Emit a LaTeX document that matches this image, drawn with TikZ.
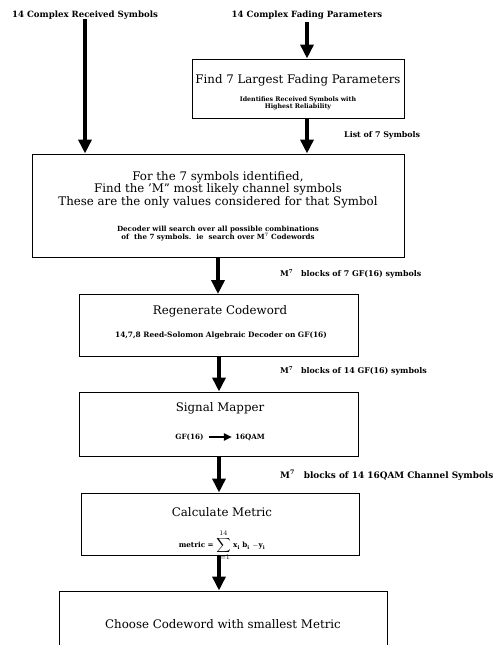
\documentclass[tikz,border=0pt]{standalone}
\usepackage{fontspec}
\setmainfont{DejaVu Serif}
\usetikzlibrary{arrows.meta}
\tikzset{
  box/.style n args={2}{draw, line width=1pt, inner sep=0pt, minimum width=#1, minimum height=#2},
  bigarrow/.style={line width=4.2pt, -{Triangle[length=14pt,width=13pt]}},
  smallarrow/.style={line width=2.2pt, -{Triangle[length=8pt,width=7pt]}},
  title/.style={inner sep=0pt, font=\fontsize{11.8}{12.6}\selectfont},
  sub/.style={inner sep=0pt, align=center, font=\fontsize{6.3}{6.7}\selectfont\bfseries},
  lbl/.style={inner sep=0pt, font=\fontsize{7.9}{9}\selectfont\bfseries},
  toplbl/.style={inner sep=0pt, font=\fontsize{8.6}{10}\selectfont\bfseries},
}
\begin{document}
\begin{tikzpicture}[x=1pt,y=-1pt]
\useasboundingbox (0,0) rectangle (499,645);
\clip (0,0) rectangle (499,645);
\fill[white] (0,0) rectangle (499,645);

% top labels
\node[toplbl] (recv) at (85,15) {14 Complex Received Symbols};
\node[toplbl] (fad) at (307,15) {14 Complex Fading Parameters};

% boxes
\node[box={212pt}{59pt}] (find) at (298,88.5) {};
\node[box={372pt}{103pt}] (big) at (218,205.5) {};
\node[box={279pt}{62pt}] (regen) at (219,325.5) {};
\node[box={279pt}{64pt}] (mapper) at (219,424) {};
\node[box={278pt}{62pt}] (metric) at (220,524) {};
\node[box={328pt}{120pt}] (choose) at (223,651) {};

% find box texts
\node[title] (findt) at (298,80) {Find 7 Largest Fading Parameters};
\node[sub] (finds) at (298,103) {Identifies Received Symbols with\\Highest Reliability};

% big box texts
\node[title, align=center] (bigt) at (218,189.5)
  {For the 7 symbols identified,\\Find the {'}M{''} most likely channel symbols\\These are the only values considered for that Symbol};
\node[sub, font=\fontsize{7.1}{7.4}\selectfont\bfseries] (bigs) at (218,233.5) {Decoder will search over all possible combinations\\of\ \ the 7 symbols.\ \ ie\ \ search over M$^{7}$ Codewords};

% regen
\node[title] (regent) at (220,311) {Regenerate Codeword};
\node[sub, font=\fontsize{7.4}{8}\selectfont\bfseries] (regens) at (221,336) {14,7,8 Reed-Solomon Algebraic Decoder on GF(16)};

% mapper
\node[title] (mappert) at (220,408) {Signal Mapper};
\node[sub, font=\fontsize{7.2}{8}\selectfont\bfseries] (gf) at (189.5,437) {GF(16)};
\node[sub, font=\fontsize{7.2}{8}\selectfont\bfseries] (qam) at (250,437) {16QAM};
\draw[smallarrow] ([xshift=5pt]gf.east) -- ([xshift=-3pt]qam.west);

% metric
\node[title] (metrict) at (222,512) {Calculate Metric};
\node[inner sep=0pt, font=\fontsize{7.2}{8}\selectfont\bfseries] (metricf) at (222,545)
  {metric = {\fontsize{10}{10}\selectfont$\displaystyle\sum_{i=1}^{14}$} x$_{\mathbf{i}}$ b$_{\mathbf{i}}$ $-$y$_{\mathbf{i}}$};

% choose
\node[title] (chooset) at (223,624) {Choose Codeword with smallest Metric};

% side labels
\node[lbl, anchor=west] (l1) at (344,135) {List of 7 Symbols};
\node[lbl, anchor=west] (l2) at (280,274) {M$^{\mathbf 7}$\quad blocks of 7 GF(16) symbols};
\node[lbl, anchor=west] (l3) at (280,371) {M$^{\mathbf 7}$\quad blocks of 14 GF(16) symbols};
\node[lbl, anchor=west, font=\fontsize{8.9}{10}\selectfont\bfseries] (l4) at (280,475) {M$^{\mathbf 7}$\quad blocks of 14 16QAM Channel Symbols};

% arrows
\draw[bigarrow] (recv.south) -- (recv.south |- big.north);
\draw[bigarrow] ([yshift=-3pt]fad.south) -- (fad.south |- find.north);
\draw[bigarrow] (find.south -| fad.south) -- (big.north -| fad.south);
\draw[bigarrow] (big.south) -- (big.south |- regen.north);
\draw[bigarrow] (regen.south) -- (regen.south |- mapper.north);
\draw[bigarrow] (mapper.south) -- (mapper.south |- metric.north);
\draw[bigarrow] (metric.south -| mapper.south) -- (choose.north -| mapper.south);
\end{tikzpicture}
\end{document}
